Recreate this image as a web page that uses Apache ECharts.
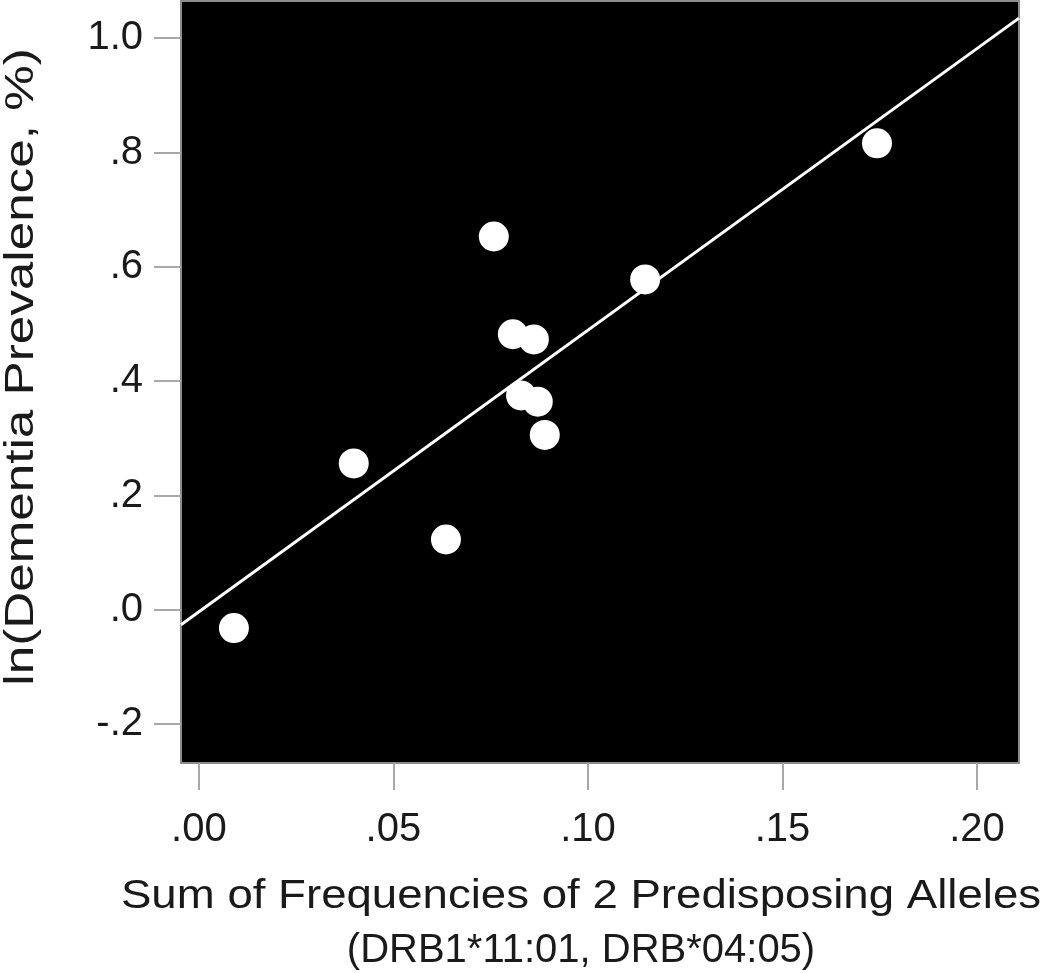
<!DOCTYPE html>
<html>
<head>
<meta charset="utf-8">
<script src="https://cdn.jsdelivr.net/npm/echarts@6/dist/echarts.min.js"></script>
<style>
html,body{margin:0;padding:0;background:#fff;}
#chart{width:1050px;height:973px;}
</style>
</head>
<body>
<div id="chart"></div>
<script>
// Data
const pointX = [0.0090, 0.0398, 0.0635, 0.0758, 0.0807, 0.0861, 0.0828, 0.0871, 0.0889, 0.1147, 0.1743];
const pointY = [-0.032, 0.256, 0.123, 0.653, 0.482, 0.473, 0.375, 0.364, 0.306, 0.578, 0.816];
const fitLineX = [-0.0046, 0.2108];
const fitLineY = [-0.026, 1.035];
const xTickValues = [0, 0.05, 0.10, 0.15, 0.20];
const xTickLabels = ['.00', '.05', '.10', '.15', '.20'];
const yTickValues = [-0.2, 0, 0.2, 0.4, 0.6, 0.8, 1.0];
const yTickLabels = ['-.2', '.0', '.2', '.4', '.6', '.8', '1.0'];
const xTitle1 = 'Sum of Frequencies of 2 Predisposing Alleles';
const xTitle2 = '(DRB1*11:01, DRB*04:05)';
const yTitle = 'ln(Dementia Prevalence, %)';

const scatterData = pointX.map((x, i) => [x, pointY[i]]);
const lineData = fitLineX.map((x, i) => [x, fitLineY[i]]);

function labelFor(values, labels) {
  return function (v) {
    for (let i = 0; i < values.length; i++) {
      if (Math.abs(values[i] - v) < 1e-9) return labels[i];
    }
    return '';
  };
}

const font = '"Liberation Sans", Arial, sans-serif';
const textColor = '#1a1a1a';
const chart = echarts.init(document.getElementById('chart'));
chart.setOption({
  animation: false,
  backgroundColor: '#fff',
  grid: {
    left: 181, top: 1, right: 31, bottom: 210,
    show: true, backgroundColor: '#000', borderColor: '#8c8c8c', borderWidth: 2
  },
  xAxis: {
    type: 'value', min: -0.0046, max: 0.2108,
    axisLine: { show: false, onZero: false },
    splitLine: { show: false },
    axisTick: { show: true, length: 27, customValues: xTickValues, lineStyle: { color: '#a8a8a8', width: 2 } },
    axisLabel: { customValues: xTickValues, formatter: labelFor(xTickValues, xTickLabels), margin: 47, fontSize: 40, color: textColor, fontFamily: font }
  },
  yAxis: {
    type: 'value', min: -0.268, max: 1.065,
    axisLine: { show: false, onZero: false },
    splitLine: { show: false },
    axisTick: { show: true, length: 27, customValues: yTickValues, lineStyle: { color: '#a8a8a8', width: 2 } },
    axisLabel: { customValues: yTickValues, formatter: labelFor(yTickValues, yTickLabels), margin: 38, fontSize: 40, color: textColor, fontFamily: font }
  },
  graphic: [
    { type: 'text', x: 581, y: 897, scaleX: 1.14, silent: true,
      style: { text: xTitle1, fontSize: 40, fontFamily: font, fill: textColor, align: 'center', verticalAlign: 'middle' } },
    { type: 'text', x: 581, y: 951, silent: true,
      style: { text: xTitle2, fontSize: 40, fontFamily: font, fill: textColor, align: 'center', verticalAlign: 'middle' } },
    { type: 'text', x: 22, y: 367, rotation: Math.PI / 2, scaleX: 1.28, silent: true,
      style: { text: yTitle, fontSize: 40, fontFamily: font, fill: textColor, align: 'center', verticalAlign: 'middle' } }
  ],
  series: [
    { type: 'line', data: lineData, symbol: 'none', lineStyle: { color: '#fff', width: 3 }, z: 2 },
    { type: 'scatter', data: scatterData, symbolSize: 30, itemStyle: { color: '#fff', opacity: 1 }, z: 3 }
  ]
});
</script>
</body>
</html>
